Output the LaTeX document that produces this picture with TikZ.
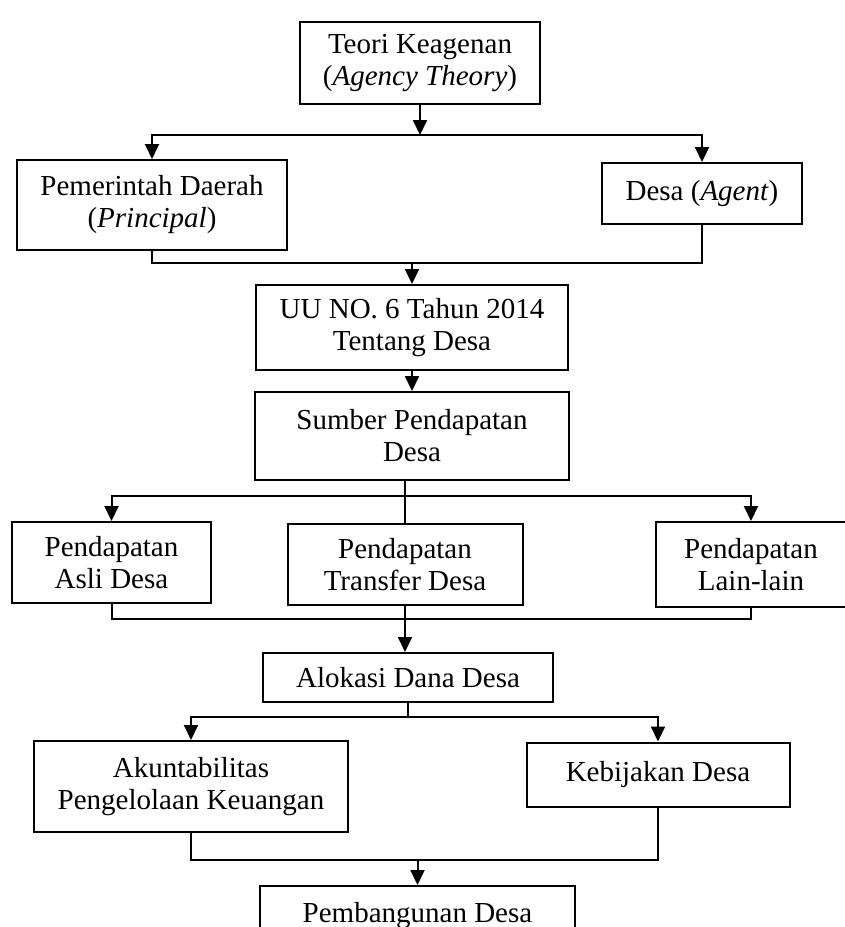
\documentclass[tikz,border=0pt]{standalone}
\usepackage{fontspec}
\setmainfont{Liberation Serif}
\usetikzlibrary{arrows.meta}
\begin{document}
\begin{tikzpicture}[x=1pt,y=-1pt,
  box/.style={draw, line width=2pt, align=center, inner sep=0pt,
    font=\fontsize{29}{32}\selectfont},
  conn/.style={line width=2pt},
  arr/.style={conn, -{Triangle[width=14pt,length=15pt]}}]
\useasboundingbox (0,0) rectangle (845,927);
\node[box, minimum width=240pt, minimum height=82pt] (teori) at (420,63) {Teori Keagenan\\(\textit{Agency Theory})};
\node[box, minimum width=270pt, minimum height=90pt] (pem) at (152,205) {Pemerintah Daerah\\(\textit{Principal})};
\node[box, minimum width=200pt, minimum height=61pt] (desa) at (702,193.5) {Desa (\textit{Agent})};
\node[box, minimum width=312pt, minimum height=85pt] (uu) at (412,327.5) {UU NO. 6 Tahun 2014\\Tentang Desa};
\node[box, minimum width=314pt, minimum height=88pt] (sumber) at (412,436) {Sumber Pendapatan\\Desa};
\node[box, minimum width=199pt, minimum height=81pt] (asli) at (111.5,562.5) {Pendapatan\\Asli Desa};
\node[box, minimum width=235pt, minimum height=81pt] (transfer) at (405,564.5) {Pendapatan\\Transfer Desa};
\node[box, minimum width=190pt, minimum height=85pt] (lain) at (751,564.5) {Pendapatan\\Lain-lain};
\node[box, minimum width=290pt, minimum height=49pt] (alokasi) at (408,677.5) {Alokasi Dana Desa};
\node[box, minimum width=314pt, minimum height=91pt] (akun) at (191,786.5) {Akuntabilitas\\Pengelolaan Keuangan};
\node[box, minimum width=263pt, minimum height=64pt] (keb) at (658,774.5) {Kebijakan Desa};
\node[box, anchor=north, minimum width=315pt, inner ysep=9pt, text height=27pt, text depth=60pt] (pemb) at (417.5,885) {Pembangunan Desa};
\coordinate (j1) at (420,135);
\coordinate (j2) at (412,263);
\coordinate (j3) at (405,496);
\coordinate (j4) at (405,619);
\coordinate (j5) at (408,717);
\coordinate (j6) at (417.5,860);
\draw[arr] (teori.south) -- (j1);
\draw[arr] (j1) -| (pem.north);
\draw[arr] (j1) -| (desa.north);
\draw[conn] (pem.south) |- (j2);
\draw[conn] (desa.south) |- (j2);
\draw[arr] (j2) -- (uu.north);
\draw[arr] (uu.south) -- (sumber.north);
\draw[conn] (transfer.north |- sumber.south) -- (transfer.north);
\draw[arr] (j3) -| (asli.north);
\draw[arr] (j3) -| (lain.north);
\draw[conn] (asli.south) |- (j4);
\draw[conn] (lain.south) |- (j4);
\draw[arr] (transfer.south) -- (transfer.south |- alokasi.north);
\draw[conn] (alokasi.south) -- (j5);
\draw[arr] (j5) -| (akun.north);
\draw[arr] (j5) -| (keb.north);
\draw[conn] (akun.south) |- (j6);
\draw[conn] (keb.south) |- (j6);
\draw[arr] (j6) -- (pemb.north);
\end{tikzpicture}
\end{document}
